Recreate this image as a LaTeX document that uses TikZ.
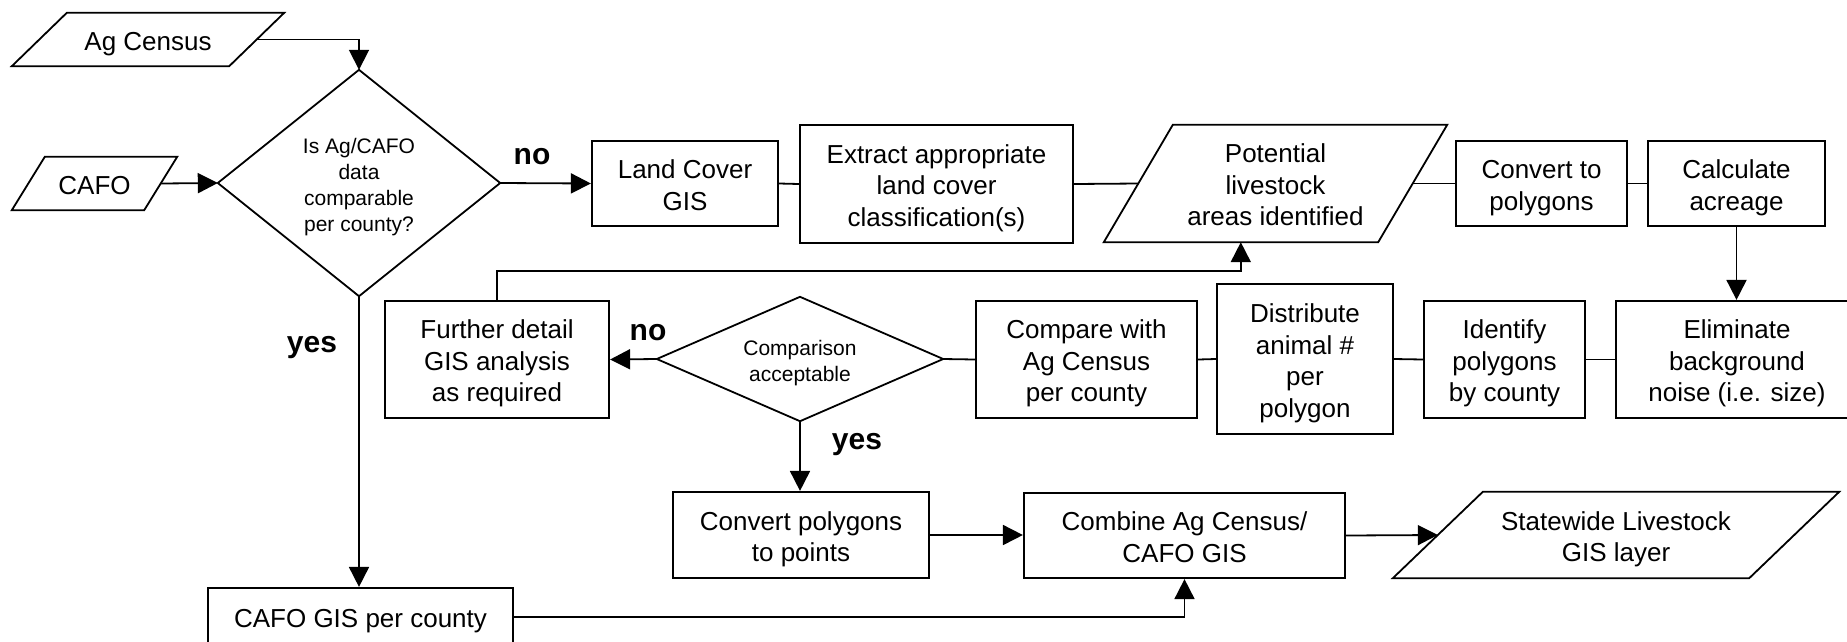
\documentclass[tikz,border=0pt]{standalone}
\usepackage{fontspec}
\setmainfont{Liberation Sans}
\usetikzlibrary{arrows.meta,calc}

% centred block of lines with a fixed line pitch, set slightly low in its box
\newcommand{\mltext}[1]{\raisebox{-4.5pt}[\height][\depth]{\begin{tabular}{@{}c@{}}#1\end{tabular}}}
\newcommand{\mlsmall}[1]{\raisebox{-4pt}[\height][\depth]{\begin{tabular}{@{}c@{}}#1\end{tabular}}}

\tikzset{
  txt/.style={font=\fontsize{26}{31.5}\selectfont, inner sep=0pt},
  procbox/.style={txt, draw, line width=2.2pt, rectangle},
  frame/.style={txt, draw=none, rectangle},
  smalltxt/.style={font=\fontsize{21}{26}\selectfont, inner sep=0pt, draw=none, rectangle},
  outline/.style={draw, line width=1.8pt, line join=miter},
  link/.style={line width=1.8pt},
  arr/.style={link, -{Triangle[length=20pt,width=20pt]}},
  answer/.style={font=\fontsize{30}{30}\selectfont\bfseries, inner sep=0pt},
}

\begin{document}
\begin{tikzpicture}[x=1pt,y=-1pt]
\clip (0,0) rectangle (1847,641);
\fill[white] (0,0) rectangle (1847,641);

% ---- inputs (parallelograms) ----
\node[frame, minimum width=272pt, minimum height=53pt] (agc) at (148,39.5) {\mltext{Ag Census}};
\draw[outline] ($(agc.north west)+(55,0)$) -- (agc.north east) -- ($(agc.south east)+(-55,0)$) -- (agc.south west) -- cycle;
\coordinate (agcR) at ($(agc.east)+(-27.5,0)$);

\node[frame, minimum width=165pt, minimum height=53pt] (cafo) at (94.5,183.5) {\mltext{CAFO}};
\draw[outline] ($(cafo.north west)+(33,0)$) -- (cafo.north east) -- ($(cafo.south east)+(-33,0)$) -- (cafo.south west) -- cycle;
\coordinate (cafoR) at ($(cafo.east)+(-16.5,0)$);

% ---- first decision ----
\node[smalltxt, minimum width=282pt, minimum height=226pt] (d1) at (359,183)
  {\mlsmall{Is Ag/CAFO\\data\\comparable\\per county?}};
\draw[outline] (d1.north) -- (d1.east) -- (d1.south) -- (d1.west) -- cycle;

% ---- upper row ----
\node[procbox, minimum width=186pt, minimum height=85pt] (land) at (685,183.5) {\mltext{Land Cover\\GIS}};
\node[procbox, minimum width=273pt, minimum height=118pt] (extract) at (936.5,184)
  {\mltext{Extract appropriate\\land cover\\classification(s)}};

\node[frame, minimum width=343pt, minimum height=117pt] (pot) at (1275.5,183.5)
  {\mltext{Potential\\livestock\\areas identified}};
\draw[outline] ($(pot.north west)+(69,0)$) -- (pot.north east) -- ($(pot.south east)+(-69,0)$) -- (pot.south west) -- cycle;
\coordinate (potL) at ($(pot.west)+(34.5,0)$);
\coordinate (potR) at ($(pot.east)+(-34.5,0)$);
\coordinate (potIn) at ($(pot.south west)+(137,0)$);

\node[procbox, minimum width=171pt, minimum height=85pt] (conv) at (1541.5,183.5) {\mltext{Convert to\\polygons}};
\node[procbox, minimum width=177pt, minimum height=85pt] (calc) at (1736.5,183.5) {\mltext{Calculate\\acreage}};

% ---- middle row ----
\node[procbox, minimum width=242pt, minimum height=117pt] (elim) at (1737,359.5)
  {\mltext{Eliminate\\background\\noise (i.e. size)}};
\node[procbox, minimum width=161pt, minimum height=117pt] (ident) at (1504.5,359.5)
  {\mltext{Identify\\polygons\\by county}};
\node[procbox, minimum width=176pt, minimum height=150pt] (distr) at (1305,359)
  {\mltext{Distribute\\animal \#\\per\\polygon}};
\node[procbox, minimum width=221pt, minimum height=117pt] (compare) at (1086.5,359.5)
  {\mltext{Compare with\\Ag Census\\per county}};

\node[smalltxt, minimum width=286pt, minimum height=124pt] (d2) at (800,359)
  {\mlsmall{Comparison\\acceptable}};
\draw[outline] (d2.north) -- (d2.east) -- (d2.south) -- (d2.west) -- cycle;

\node[procbox, minimum width=224pt, minimum height=117pt] (further) at (497,359.5)
  {\mltext{Further detail\\GIS analysis\\as required}};

% ---- lower row ----
\node[procbox, minimum width=256pt, minimum height=86pt] (cpts) at (801,535)
  {\mltext{Convert polygons\\to points}};
\node[procbox, minimum width=321pt, minimum height=85pt] (comb) at (1184.5,535.5)
  {\mltext{Combine Ag Census/\\CAFO GIS}};

\node[frame, minimum width=446pt, minimum height=86pt] (state) at (1616,535)
  {\mltext{Statewide Livestock\\GIS layer}};
\draw[outline] ($(state.north west)+(90,0)$) -- (state.north east) -- ($(state.south east)+(-90,0)$) -- (state.south west) -- cycle;
\coordinate (stateL) at ($(state.west)+(45,0)$);

\node[procbox, minimum width=305pt, minimum height=58pt] (cgis) at (360.5,617) {\mltext{CAFO GIS per county}};

% ---- connectors ----
\draw[arr] (agcR) -| (d1.north);
\draw[arr] (cafoR) -- (d1.west);
\draw[arr] (d1.east) -- (land.west);
\draw[link] (land.east) -- (extract.west);
\draw[link] (extract.east) -- (potL);
\draw[link] (potR) -- (conv.west);
\draw[link] (conv.east) -- (calc.west);
\draw[arr] (calc.south) -- (calc.south |- elim.north);
\draw[link] (elim.west) -- (ident.east);
\draw[link] (ident.west) -- (distr.east);
\draw[link] (distr.west) -- (compare.east);
\draw[link] (compare.west) -- (d2.east);
\draw[arr] (d2.west) -- (further.east);
\draw[arr] (further.north) -- ++(0,-29) -| (potIn);
\draw[arr] (d1.south) -- (d1.south |- cgis.north);
\draw[arr] (d2.south) -- (d2.south |- cpts.north);
\draw[arr] (cpts.east) -- (cpts.east -| comb.west);
\draw[arr] (comb.east) -- (stateL);
\draw[arr] (cgis.east) -| (comb.south);

% ---- branch labels ----
\node[answer] (no1) at (532,157) {no};
\node[answer] (yes1) at (312,348) {yes};
\node[answer] (no2) at (648,333) {no};
\node[answer] (yes2) at (857,445) {yes};

\end{tikzpicture}
\end{document}
